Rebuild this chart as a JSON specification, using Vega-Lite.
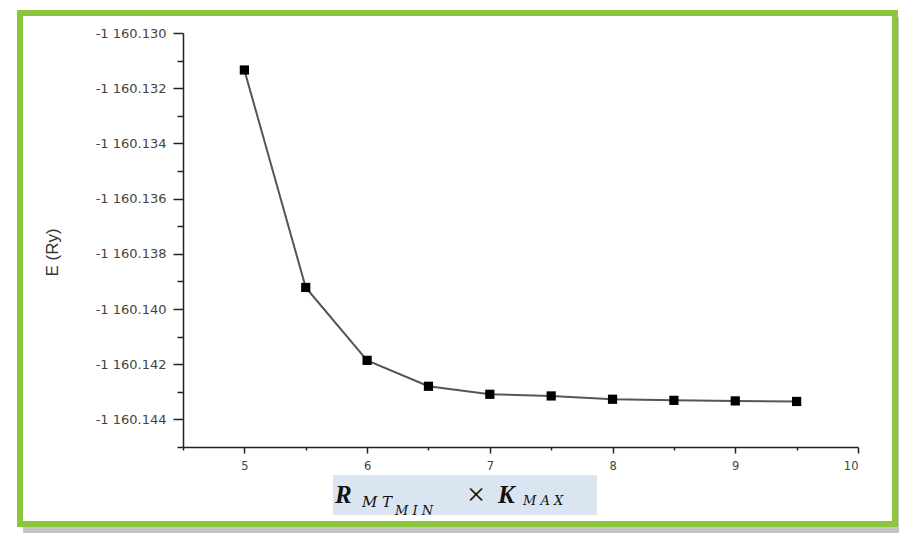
{
  "$schema": "https://vega.github.io/schema/vega-lite/v6.json",
  "width": 675,
  "height": 414,
  "autosize": {"type": "none"},
  "padding": {"left": 183, "top": 33, "right": 41, "bottom": 88},
  "background": "white",
  "config": {
    "view": {"stroke": null},
    "locale": {"number": {"decimal": ".", "thousands": " ", "grouping": [3], "currency": ["", ""], "minus": "-"}},
    "axis": {"labelFont": "DejaVu Sans", "labelColor": "#444", "titleFont": "Liberation Sans", "titleColor": "#333", "domainColor": "#222", "tickColor": "#222", "grid": false}
  },
  "data": {"values": [
    {"x": 5, "E": -1160.13134},
    {"x": 5.5, "E": -1160.13922},
    {"x": 6, "E": -1160.14186},
    {"x": 6.5, "E": -1160.1428},
    {"x": 7, "E": -1160.14309},
    {"x": 7.5, "E": -1160.14315},
    {"x": 8, "E": -1160.14327},
    {"x": 8.5, "E": -1160.14331},
    {"x": 9, "E": -1160.14333},
    {"x": 9.5, "E": -1160.14335}
  ]},
  "resolve": {"axis": {"x": "independent", "y": "independent"}},
  "layer": [
    {
      "data": {"values": [{}]},
      "mark": {"type": "rect", "fill": "#c4c4c4", "clip": false},
      "encoding": {
        "x": {"datum": 3.1963, "type": "quantitative", "scale": {"domain": [4.5, 10], "nice": false, "zero": false}, "axis": null},
        "x2": {"datum": 10.3341},
        "y": {"datum": -1160.12942, "type": "quantitative", "scale": {"domain": [-1160.145, -1160.13], "nice": false, "zero": false}, "axis": null},
        "y2": {"datum": -1160.148116}
      }
    },
    {
      "data": {"values": [{}]},
      "mark": {"type": "rect", "fill": "white", "stroke": "#8cc63f", "strokeWidth": 6, "clip": false},
      "encoding": {
        "x": {"datum": 3.1718, "type": "quantitative", "scale": {"domain": [4.5, 10], "nice": false, "zero": false}, "axis": null},
        "x2": {"datum": 10.3015},
        "y": {"datum": -1160.129275, "type": "quantitative", "scale": {"domain": [-1160.145, -1160.13], "nice": false, "zero": false}, "axis": null},
        "y2": {"datum": -1160.14779}
      }
    },
    {
      "data": {"values": [{}]},
      "mark": {"type": "rect", "fill": "#dbe5f1", "clip": false},
      "encoding": {
        "x": {"datum": 5.7222, "type": "quantitative", "scale": {"domain": [4.5, 10], "nice": false, "zero": false}, "axis": null},
        "x2": {"datum": 7.8733},
        "y": {"datum": -1160.146014, "type": "quantitative", "scale": {"domain": [-1160.145, -1160.13], "nice": false, "zero": false}, "axis": null},
        "y2": {"datum": -1160.147464}
      }
    },
    {
      "data": {"values": [{"t": "R", "px": 5.7385, "py": -1160.147029}, {"t": "K", "px": 7.0667, "py": -1160.147029}]},
      "mark": {"type": "text", "font": "Liberation Serif", "fontStyle": "italic", "fontWeight": "bold", "fontSize": 25, "align": "left", "baseline": "alphabetic", "color": "#111", "clip": false},
      "encoding": {
        "x": {"field": "px", "type": "quantitative", "scale": {"domain": [4.5, 10], "nice": false, "zero": false}, "axis": null},
        "y": {"field": "py", "type": "quantitative", "scale": {"domain": [-1160.145, -1160.13], "nice": false, "zero": false}, "axis": null},
        "text": {"field": "t"}
      }
    },
    {
      "data": {"values": [{"t": "M T", "px": 5.9585, "py": -1160.147174}]},
      "mark": {"type": "text", "font": "DejaVu Serif", "fontStyle": "italic", "fontSize": 15, "align": "left", "baseline": "alphabetic", "color": "#111", "clip": false},
      "encoding": {
        "x": {"field": "px", "type": "quantitative", "scale": {"domain": [4.5, 10], "nice": false, "zero": false}, "axis": null},
        "y": {"field": "py", "type": "quantitative", "scale": {"domain": [-1160.145, -1160.13], "nice": false, "zero": false}, "axis": null},
        "text": {"field": "t"}
      }
    },
    {
      "data": {"values": [{"t": "M I N", "px": 6.2274, "py": -1160.147464}, {"t": "M A X", "px": 7.2704, "py": -1160.147101}]},
      "mark": {"type": "text", "font": "DejaVu Serif", "fontStyle": "italic", "fontSize": 13, "align": "left", "baseline": "alphabetic", "color": "#111", "clip": false},
      "encoding": {
        "x": {"field": "px", "type": "quantitative", "scale": {"domain": [4.5, 10], "nice": false, "zero": false}, "axis": null},
        "y": {"field": "py", "type": "quantitative", "scale": {"domain": [-1160.145, -1160.13], "nice": false, "zero": false}, "axis": null},
        "text": {"field": "t"}
      }
    },
    {
      "data": {"values": [{"t": "×", "px": 6.8141, "py": -1160.147101}]},
      "mark": {"type": "text", "font": "Liberation Serif", "fontSize": 32, "align": "left", "baseline": "alphabetic", "color": "#111", "clip": false},
      "encoding": {
        "x": {"field": "px", "type": "quantitative", "scale": {"domain": [4.5, 10], "nice": false, "zero": false}, "axis": null},
        "y": {"field": "py", "type": "quantitative", "scale": {"domain": [-1160.145, -1160.13], "nice": false, "zero": false}, "axis": null},
        "text": {"field": "t"}
      }
    },
    {
      "mark": {"type": "line", "color": "#555", "strokeWidth": 2},
      "encoding": {
        "x": {"field": "x", "type": "quantitative", "scale": {"domain": [4.5, 10], "nice": false, "zero": false},
          "axis": {"orient": "bottom", "zindex": 2, "values": [5, 6, 7, 8, 9, 10], "title": null, "tickSize": 6, "labelFontSize": 11.5, "labelPadding": 7, "domainWidth": 1.5, "tickWidth": 1.5}},
        "y": {"field": "E", "type": "quantitative", "scale": {"domain": [-1160.145, -1160.13], "nice": false, "zero": false},
          "axis": {"orient": "left", "zindex": 2, "values": [-1160.13, -1160.132, -1160.134, -1160.136, -1160.138, -1160.14, -1160.142, -1160.144], "format": ",.3f", "title": "E (Ry)", "titleFontSize": 17, "titleFontWeight": "normal", "titleAngle": -90, "titleX": -131, "titleY": 219, "titleAlign": "center", "titleBaseline": "middle", "tickSize": 10, "labelFontSize": 13, "labelPadding": 7, "domainWidth": 1.5, "tickWidth": 1.5}}
      }
    },
    {
      "mark": {"type": "square", "color": "black", "opacity": 1, "size": 85},
      "encoding": {
        "x": {"field": "x", "type": "quantitative", "scale": {"domain": [4.5, 10], "nice": false, "zero": false},
          "axis": {"orient": "bottom", "zindex": 2, "values": [4.5, 5.5, 6.5, 7.5, 8.5, 9.5], "title": null, "labels": false, "domain": false, "tickSize": 3, "tickWidth": 1.5}},
        "y": {"field": "E", "type": "quantitative", "scale": {"domain": [-1160.145, -1160.13], "nice": false, "zero": false},
          "axis": {"orient": "left", "zindex": 2, "values": [-1160.131, -1160.133, -1160.135, -1160.137, -1160.139, -1160.141, -1160.143, -1160.145], "title": null, "labels": false, "domain": false, "tickSize": 6, "tickWidth": 1.5}}
      }
    }
  ]
}
